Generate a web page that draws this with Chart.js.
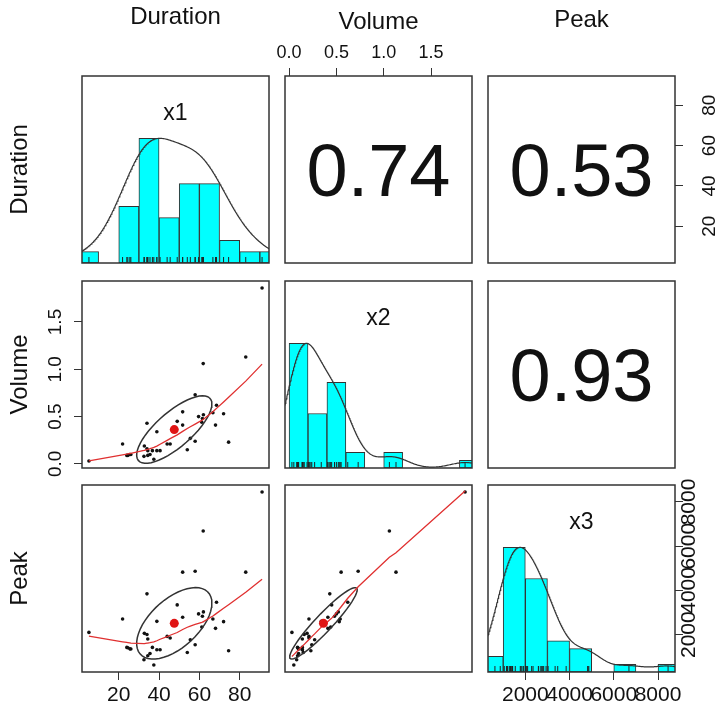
<!DOCTYPE html>
<html>
<head>
<meta charset="utf-8">
<title>Duration / Volume / Peak pairs panels</title>
<script src="https://cdn.jsdelivr.net/npm/chart.js@4.4.1/dist/chart.umd.min.js"></script>
<style>
  html, body { margin: 0; padding: 0; background: #fff; }
  #grid { position: relative; width: 716px; height: 716px; overflow: hidden; background: #fff; }
  #grid canvas { position: absolute; }
</style>
</head>
<body>
<div id="grid"></div>
<script>
const duration = [5.2, 21.9, 34.0, 51.7, 57.9, 83.0, 49.0, 38.9, 51.7, 59.6,
                  62.0, 61.5, 68.5, 66.7, 72.0, 68.0, 61.2, 32.7, 34.0, 34.4,
                  44.0, 55.5, 57.9, 54.0, 24.0, 26.0, 36.7, 38.9, 40.5, 34.4,
                  32.5, 37.4, 74.5, 91.1, 61.9, 45.5, 35.5, 24.5, 25.5];
const volume = [0.03, 0.21, 0.43, 0.55, 0.73, 1.13, 0.45, 0.34, 0.41, 0.50,
                0.52, 0.48, 0.62, 0.54, 0.53, 0.41, 0.44, 0.19, 0.16, 0.14,
                0.21, 0.27, 0.24, 0.15, 0.09, 0.10, 0.14, 0.14, 0.14, 0.09,
                0.08, 0.05, 0.23, 1.86, 1.06, 0.21, 0.10, 0.09, 0.10];
const peak = [2104, 2712, 3846, 4826, 4871, 4826, 3347, 2603, 2785, 2939,
              3030, 2830, 3465, 2712, 2590, 2286, 2349, 2060, 2010, 1805,
              1923, 1773, 1546, 1197, 1424, 1351, 1424, 1320, 1320, 1048,
              866, 626, 1274, 8454, 6685, 1850, 1150, 1410, 1360];

const varNames = ['Duration', 'Volume', 'Peak'];
const diagNames = ['x1', 'x2', 'x3'];
// upper panels show the correlation as printed
const corrText = [[null, '0.74', '0.53'], [null, null, '0.93']];

// histogram bin edges
const durationBreaks = [0, 10, 20, 30, 40, 50, 60, 70, 80, 90, 100];
const volumeBreaks = [0, 0.2, 0.4, 0.6, 0.8, 1.0, 1.2, 1.4, 1.6, 1.8, 2.0];
const peakBreaks = [0, 1000, 2000, 3000, 4000, 5000, 6000, 7000, 8000, 9000];

// axis ticks
const durationTicks = [20, 40, 60, 80];
const durationTickLabels = ['20', '40', '60', '80'];
const volumeTicks = [0, 0.5, 1, 1.5];
const volumeTickLabels = ['0.0', '0.5', '1.0', '1.5'];
const peakTicks = [2000, 4000, 6000, 8000];
const peakTickLabels = ['2000', '4000', '6000', '8000'];

const vars = [duration, volume, peak];
const breaksFor = [durationBreaks, volumeBreaks, peakBreaks];
const ticksFor = [durationTicks, volumeTicks, peakTicks];
const tickLabelsFor = [durationTickLabels, volumeTickLabels, peakTickLabels];

// panel geometry
const PANEL = 187;
const MARGIN = 76;
const colLeft = [82, 285, 488];
const rowTop = [76, 281, 485];
const topTitlePad = [3, 8, 6];

const FONT = '"Liberation Sans", Arial, Helvetica, sans-serif';
Chart.defaults.font.family = FONT;
Chart.defaults.color = '#111';

// ---- small stats helpers ----
const mean = v => v.reduce((s, x) => s + x, 0) / v.length;
const sd = v => { const m = mean(v); return Math.sqrt(v.reduce((s, x) => s + (x - m) ** 2, 0) / (v.length - 1)); };
const corr = (a, b) => {
  const ma = mean(a), mb = mean(b);
  let sab = 0, saa = 0, sbb = 0;
  a.forEach((x, i) => { sab += (x - ma) * (b[i] - mb); saa += (x - ma) ** 2; sbb += (b[i] - mb) ** 2; });
  return sab / Math.sqrt(saa * sbb);
};
const padRange = v => {
  const lo = Math.min(...v), hi = Math.max(...v), e = (hi - lo) * 0.04;
  return [lo - e, hi + e];
};

// gaussian kernel density, bw = nrd * 1.2, scaled to a peak of 1
function density(v) {
  const n = v.length, s = [...v].sort((a, b) => a - b);
  const q = p => { const h = (n - 1) * p, lo = Math.floor(h); return s[lo] + (h - lo) * (s[Math.min(lo + 1, n - 1)] - s[lo]); };
  const bw = 1.2 * 1.06 * Math.min(sd(v), (q(0.75) - q(0.25)) / 1.34) * Math.pow(n, -0.2);
  const lo = s[0] - 3 * bw, hi = s[n - 1] + 3 * bw;
  const pts = [];
  for (let i = 0; i < 512; i++) {
    const x = lo + (hi - lo) * i / 511;
    let y = 0;
    for (const xi of v) y += Math.exp(-0.5 * ((x - xi) / bw) ** 2);
    pts.push({ x, y });
  }
  const top = Math.max(...pts.map(p => p.y));
  return pts.map(p => ({ x: p.x, y: p.y / top }));
}

// counts per bin, scaled so the tallest bar is 1
function histogram(v, b) {
  const counts = b.slice(1).map((hi, i) => v.filter(x => (i === 0 ? x >= b[0] : x > b[i]) && x <= hi).length);
  const top = Math.max(...counts);
  return counts.map((n, i) => ({ x: (b[i] + b[i + 1]) / 2, y: n / top }));
}

// robust locally weighted regression (lowess, f = 2/3, 3 iterations)
function lowess(xv, yv, f = 2 / 3, iter = 3) {
  const order = xv.map((_, i) => i).sort((a, b) => xv[a] - xv[b]);
  const x = order.map(i => xv[i]), y = order.map(i => yv[i]);
  const n = x.length;
  const ns = Math.max(2, Math.min(n, Math.floor(f * n + 1e-7)));
  const range = x[n - 1] - x[0];
  let rw = new Array(n).fill(1);
  const fit = new Array(n).fill(0);
  for (let it = 0; it <= iter; it++) {
    for (let i = 0; i < n; i++) {
      const dist = x.map(v => Math.abs(v - x[i])).sort((a, b) => a - b);
      const h = Math.max(dist[ns - 1], 1e-12);
      const w = x.map((v, j) => {
        const d = Math.abs(v - x[i]);
        if (d > 0.999 * h) return 0;
        return (d <= 0.001 * h ? 1 : Math.pow(1 - Math.pow(d / h, 3), 3)) * rw[j];
      });
      const sw = w.reduce((s, v) => s + v, 0);
      if (sw <= 0) { fit[i] = y[i]; continue; }
      const a = w.reduce((s, v, j) => s + v * x[j], 0) / sw;
      const ybar = w.reduce((s, v, j) => s + v * y[j], 0) / sw;
      const b = w.reduce((s, v, j) => s + v * (x[j] - a) ** 2, 0) / sw;
      if (Math.sqrt(b) > 0.001 * range) {
        const slope = w.reduce((s, v, j) => s + v * (x[j] - a) * (y[j] - ybar), 0) / sw / b;
        fit[i] = ybar + slope * (x[i] - a);
      } else {
        fit[i] = ybar;
      }
    }
    if (it === iter) break;
    const res = y.map((v, i) => v - fit[i]);
    const abs = res.map(Math.abs).sort((p, q) => p - q);
    const med = n % 2 ? abs[(n - 1) / 2] : (abs[n / 2 - 1] + abs[n / 2]) / 2;
    const cmad = 6 * med;
    if (cmad < 1e-7) break;
    rw = res.map(r => { const u = Math.abs(r) / cmad; return u <= 0.001 ? 1 : (u > 0.999 ? 0 : (1 - u * u) ** 2); });
  }
  return x.map((v, i) => ({ x: v, y: fit[i] }));
}

// one-sd correlation ellipse around the means
function ellipse(xv, yv, segments = 51) {
  const xm = mean(xv), ym = mean(yv), xs = sd(xv), ys = sd(yv), r = corr(xv, yv);
  const th = (r === 0 ? 1 : Math.sign(r)) / Math.SQRT2;
  const a = Math.sqrt(1 + r), b = Math.sqrt(1 - r);
  const pts = [];
  for (let k = 0; k <= segments; k++) {
    const ang = 2 * Math.PI * k / segments, c = Math.cos(ang), s = Math.sin(ang);
    pts.push({ x: (c * a * th - s * b * th) * xs + xm, y: (c * a * th + s * b * th) * ys + ym });
  }
  return pts;
}

const measureCtx = document.createElement('canvas').getContext('2d');
function textWidth(t, size) {
  measureCtx.font = size + 'px ' + FONT;
  return measureCtx.measureText(t).width;
}

// frame + in-panel text
const panelDecor = {
  id: 'panelDecor',
  afterDatasetsDraw(chart, args, opts) {
    const { ctx, chartArea: a } = chart;
    ctx.save();
    if (opts.text) {
      ctx.font = opts.size + 'px ' + FONT;
      ctx.fillStyle = '#111';
      ctx.textAlign = 'center';
      ctx.textBaseline = 'alphabetic';
      const y = opts.baseline != null ? a.top + opts.baseline : (a.top + a.bottom) / 2 + opts.size * 0.716 / 2;
      ctx.fillText(opts.text, (a.left + a.right) / 2, y);
    }
    ctx.strokeStyle = '#333';
    ctx.lineWidth = 1.5;
    ctx.strokeRect(a.left, a.top, a.right - a.left, a.bottom - a.top);
    ctx.restore();
  }
};
Chart.register(panelDecor);

function makeAxis(v, position, { ticks = false, title = null, font = 20, pad = 4, titlePad = 0 } = {}) {
  const [min, max] = padRange(vars[v]);
  const vertical = position === 'left' || position === 'right';
  const shown = ticks || !!title;
  const labels = tickLabelsFor[v];
  const shift = vertical ? (position === 'left' ? -1 : 1) * textWidth(labels[0], font) / 2 : 0;
  return {
    type: 'linear', position, min, max, offset: false,
    display: shown,
    afterBuildTicks: s => { s.ticks = ticksFor[v].map(value => ({ value })); },
    // shown axes take exactly one margin; hidden ones take nothing
    afterFit: s => {
      const size = shown ? MARGIN : 0;
      if (vertical) s.width = size; else s.height = size;
    },
    border: { display: false },
    grid: { display: ticks, offset: false, drawOnChartArea: false, drawTicks: true, tickLength: 8, color: '#333', lineWidth: 1 },
    ticks: {
      display: ticks, autoSkip: false, font: { size: font }, color: '#111', padding: pad,
      minRotation: vertical ? 90 : 0, maxRotation: vertical ? 90 : 0, labelOffset: shift,
      callback: (val, i) => labels[i]
    },
    title: title
      ? { display: true, text: title, font: { size: 24 }, color: '#111', padding: { top: titlePad, bottom: 0 } }
      : { display: false }
  };
}

const grid = document.getElementById('grid');

for (let r = 0; r < 3; r++) {
  for (let c = 0; c < 3; c++) {
    // axes: top on row 0, bottom on row 2, left on column 0, right on column 2
    let xAxis, yAxis;
    if (r === 0) xAxis = makeAxis(c, 'top', { ticks: c === 1, title: varNames[c], font: 18, pad: 4, titlePad: topTitlePad[c] });
    else if (r === 2) xAxis = makeAxis(c, 'bottom', { ticks: c !== 1, font: 21, pad: 3 });
    else xAxis = makeAxis(c, 'bottom');
    if (c === 0) yAxis = makeAxis(r, 'left', { ticks: r === 1, title: varNames[r], font: 19, pad: 18, titlePad: 0 });
    else if (c === 2) yAxis = makeAxis(r, 'right', { ticks: r !== 1, font: r === 0 ? 19 : 21, pad: r === 0 ? 27 : 6 });
    else yAxis = makeAxis(r, 'left');

    const padding = {
      top: xAxis.display && xAxis.position === 'top' ? 0 : MARGIN,
      bottom: xAxis.display && xAxis.position === 'bottom' ? 0 : MARGIN,
      left: yAxis.display && yAxis.position === 'left' ? 0 : MARGIN,
      right: yAxis.display && yAxis.position === 'right' ? 0 : MARGIN
    };

    const scales = { x: xAxis, y: yAxis };
    let type = 'scatter', datasets = [], decor = {};

    if (r === c) {
      const v = vars[c];
      type = 'bar';
      scales.yh = { type: 'linear', display: false, min: 0, max: 1.5, afterFit: s => { s.width = 0; } };
      datasets = [
        { type: 'scatter', data: v.map(x => ({ x, y: 0.024 })), yAxisID: 'yh', clip: 0,
          pointStyle: 'line', rotation: 90, pointRadius: 3, borderColor: '#222', borderWidth: 1 },
        { type: 'line', data: density(v), yAxisID: 'yh', clip: 0, pointRadius: 0,
          borderColor: '#333', borderWidth: 1.2, tension: 0, fill: false },
        { type: 'bar', data: histogram(v, breaksFor[c]), yAxisID: 'yh', clip: 0,
          backgroundColor: '#00ffff', borderColor: '#333', borderWidth: 1, borderSkipped: false,
          categoryPercentage: 1, barPercentage: 1, grouped: false }
      ];
      decor = { text: diagNames[c], size: 23, baseline: 44 };
    } else if (r > c) {
      const xv = vars[c], yv = vars[r];
      datasets = [
        { data: [{ x: mean(xv), y: mean(yv) }], clip: 0, pointRadius: 4.5, backgroundColor: '#e01515', borderWidth: 0 },
        { data: lowess(xv, yv), showLine: true, clip: 0, pointRadius: 0, borderColor: '#e03030', borderWidth: 1.3 },
        { data: ellipse(xv, yv), showLine: true, clip: 0, pointRadius: 0, borderColor: '#333', borderWidth: 1.5 },
        { data: xv.map((x, i) => ({ x, y: yv[i] })), clip: 0, pointRadius: 1.8, backgroundColor: '#111', borderWidth: 0 }
      ];
    } else {
      decor = { text: corrText[r][c], size: 74 };
    }

    const cv = document.createElement('canvas');
    cv.width = PANEL + 2 * MARGIN;
    cv.height = PANEL + 2 * MARGIN;
    cv.style.left = (colLeft[c] - MARGIN) + 'px';
    cv.style.top = (rowTop[r] - MARGIN) + 'px';
    grid.appendChild(cv);

    new Chart(cv, {
      type,
      data: { datasets },
      options: {
        responsive: false,
        animation: false,
        events: [],
        layout: { padding },
        scales,
        plugins: { legend: { display: false }, tooltip: { enabled: false }, panelDecor: decor }
      }
    });
  }
}
</script>
</body>
</html>
